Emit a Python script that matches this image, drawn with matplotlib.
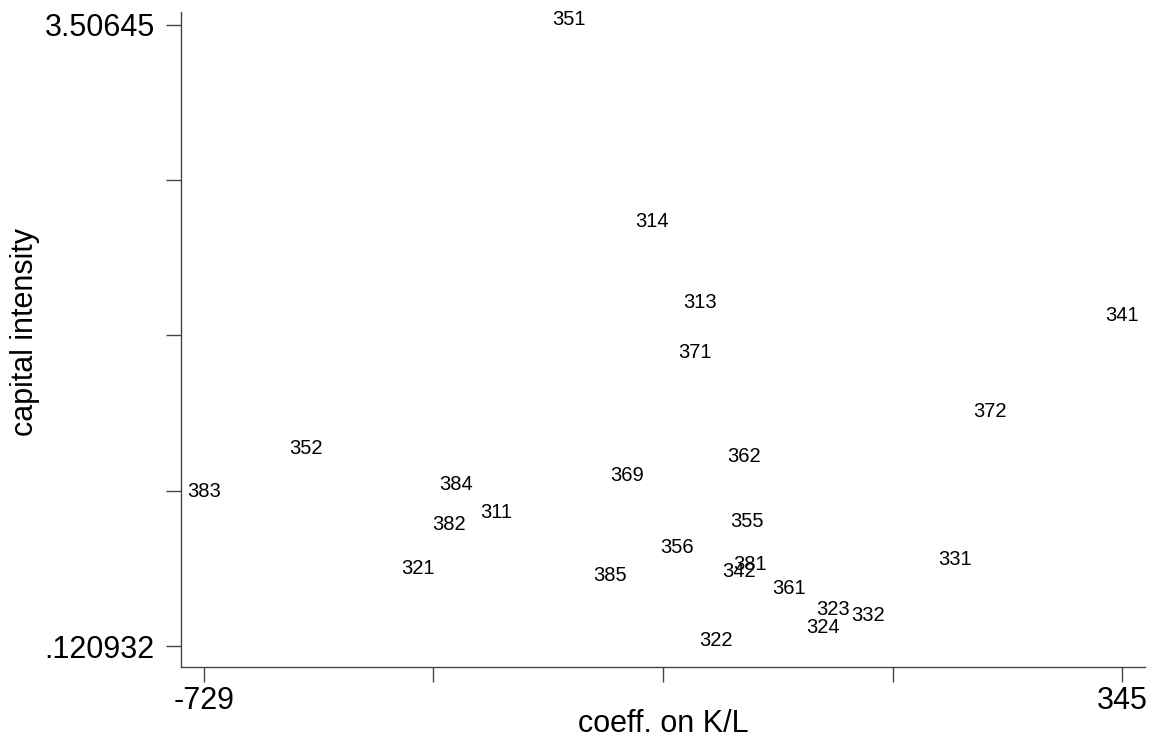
import matplotlib
matplotlib.use("Agg")
import matplotlib.pyplot as plt
import numpy as np

plt.rcParams['font.family'] = ['Liberation Sans', 'DejaVu Sans']

# industry codes and their values
industry = ['351', '314', '313', '341', '371', '372', '352', '362', '369', '383',
            '384', '311', '355', '382', '356', '331', '381', '321', '342', '385',
            '361', '323', '332', '324', '322']
coeff_kl = [-302.0, -204.6, -148.7, 345.0, -154.2, 190.0, -609.9, -97.2, -233.9, -729.0,
            -433.8, -386.6, -93.7, -442.6, -175.3, 149.6, -90.2, -478.6, -103.3, -253.8,
            -44.6, 7.1, 48.2, -4.5, -129.8]
cap_int = [3.50645, 2.4077, 1.9623, 1.8917, 1.6907, 1.3703, 1.1655, 1.1221, 1.0226, 0.9357,
           0.9716, 0.8178, 0.7690, 0.7510, 0.6278, 0.5609, 0.5371, 0.5137, 0.4957, 0.4740,
           0.4051, 0.2894, 0.2568, 0.1933, 0.120932]

xmin, xmax = -729, 345
ymin, ymax = 0.120932, 3.50645

fig = plt.figure(figsize=(11.53, 7.40), dpi=100)
ax = fig.add_axes([181/1153, (740-667)/740, 964/1153, 655/740])

for lab, x, y in zip(industry, coeff_kl, cap_int):
    ax.text(x, y, lab, ha='center', va='baseline', fontsize=14.5, color='black')

ax.set_xlim(-755.9, 371.9)
ax.set_ylim(0.00645, 3.5773)

ax.set_xticks(np.linspace(xmin, xmax, 5))
ax.set_xticklabels(['-729', '', '', '', '345'])
ax.set_yticks(np.linspace(ymin, ymax, 5))
ax.set_yticklabels(['.120932', '', '', '', '3.50645'])

ax.spines['top'].set_visible(False)
ax.spines['right'].set_visible(False)
for s in ['left', 'bottom']:
    ax.spines[s].set_color('#444444')
    ax.spines[s].set_linewidth(1.0)
ax.tick_params(axis='both', direction='out', length=11, width=1.0, color='#444444',
               labelsize=22, labelcolor='black')
ax.tick_params(axis='x', pad=3)
ax.tick_params(axis='y', pad=8)

ax.set_xlabel('coeff. on K/L', fontsize=22)
ax.xaxis.set_label_coords(0.5, -0.064)
ax.set_ylabel('capital intensity', fontsize=22, va='center')
ax.yaxis.set_label_coords(-0.162, 0.511)

fig.savefig('out.png', dpi=100)
